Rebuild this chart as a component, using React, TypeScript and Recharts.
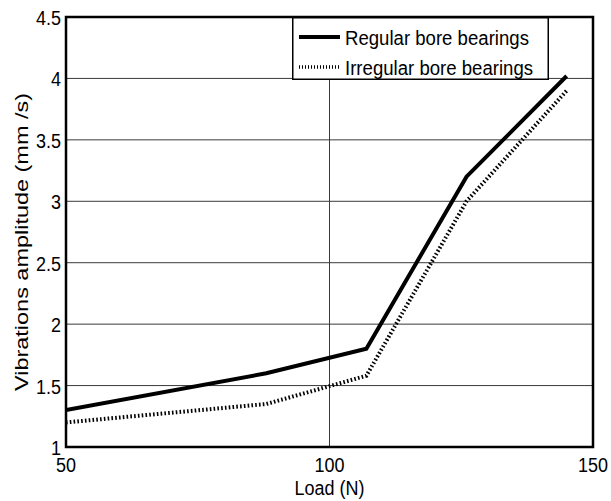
import { LineChart, Line, XAxis, YAxis, CartesianGrid, ReferenceArea, Legend } from "recharts";

const loads = [50, 88, 107, 126, 145];
const regularBore = [1.3, 1.6, 1.8, 3.2, 4.02];
const irregularBore = [1.2, 1.35, 1.58, 3.0, 3.9];
const loadTicks = [50, 100, 150];
const ampTicks = [1, 1.5, 2, 2.5, 3, 3.5, 4, 4.5];

const series = [
  { key: "regular", name: "Regular bore bearings", dash: undefined as string | undefined },
  { key: "irregular", name: "Irregular bore bearings", dash: "1.6 2.2" },
];

const data = loads.map((load, i) => ({
  load,
  regular: regularBore[i],
  irregular: irregularBore[i],
}));

const FONT = "'Liberation Sans', Arial, Helvetica, sans-serif";
// the exported figure text is a bit taller than it is wide
const STRETCH = 1.12;

function XTick({ x, y, payload }: any) {
  return (
    <text
      transform={`translate(${x},${y + 25}) scale(1,${STRETCH})`}
      textAnchor="middle"
      fontSize={18}
      fontFamily={FONT}
      fill="#000"
    >
      {payload.value}
    </text>
  );
}

function YTick({ x, y, payload }: any) {
  return (
    <text
      transform={`translate(${x - 5},${y + 8}) scale(1,${STRETCH})`}
      textAnchor="end"
      fontSize={18}
      fontFamily={FONT}
      fill="#000"
    >
      {payload.value}
    </text>
  );
}

function XLabel({ viewBox }: any) {
  const cx = viewBox.x + viewBox.width / 2;
  return (
    <text
      transform={`translate(${cx},${viewBox.y + 48}) scale(1,${STRETCH})`}
      textAnchor="middle"
      fontSize={18}
      fontFamily={FONT}
      fill="#000"
    >
      Load (N)
    </text>
  );
}

function YLabel({ viewBox }: any) {
  const cy = viewBox.y + viewBox.height / 2 + 10;
  return (
    <text
      transform={`translate(28,${cy}) rotate(-90)`}
      textAnchor="middle"
      fontSize={18}
      fontFamily={FONT}
      fill="#000"
      textLength={298}
      lengthAdjust="spacingAndGlyphs"
    >
      Vibrations amplitude (mm /s)
    </text>
  );
}

function LegendBox() {
  return (
    <svg width={257} height={63} style={{ display: "block" }}>
      <rect x={0.75} y={0.75} width={255.5} height={61.5} fill="#fff" stroke="#000" strokeWidth={1.5} />
      {series.map((s, i) => {
        const cy = 20 + i * 30;
        return (
          <g key={s.key}>
            <line
              x1={7}
              x2={48}
              y1={cy}
              y2={cy}
              stroke="#000"
              strokeWidth={s.dash ? 3.5 : 4}
              strokeDasharray={s.dash ? "1 2" : undefined}
            />
            <text
              transform={`translate(53,${cy + 8}) scale(1,${STRETCH})`}
              fontSize={18.6}
              fontFamily={FONT}
              fill="#000"
            >
              {s.name}
            </text>
          </g>
        );
      })}
    </svg>
  );
}

export default function App() {
  return (
    <div style={{ position: "absolute", left: 0, top: 0, background: "#fff" }}>
      <LineChart width={611} height={501} data={data} margin={{ top: 17, right: 18, bottom: 0, left: 0 }}>
        <CartesianGrid stroke="#3a3a3a" strokeWidth={1} />
        <XAxis
          dataKey="load"
          type="number"
          domain={[50, 150]}
          ticks={loadTicks}
          allowDataOverflow
          height={54}
          tickLine={false}
          tickSize={0}
          tickMargin={0}
          axisLine={false}
          tick={<XTick />}
          label={<XLabel />}
        />
        <YAxis
          type="number"
          domain={[1, 4.5]}
          ticks={ampTicks}
          allowDataOverflow
          width={66}
          tickLine={false}
          tickSize={0}
          tickMargin={0}
          axisLine={false}
          tick={<YTick />}
          label={<YLabel />}
        />
        <ReferenceArea x1={50} x2={150} y1={1} y2={4.5} fill="none" stroke="#000" strokeWidth={2.5} />
        {series.map((s) => (
          <Line
            key={s.key}
            dataKey={s.key}
            name={s.name}
            type="linear"
            stroke="#000"
            strokeWidth={4}
            strokeDasharray={s.dash}
            dot={false}
            isAnimationActive={false}
          />
        ))}
        <Legend
          layout="vertical"
          align="center"
          verticalAlign="middle"
          wrapperStyle={{ left: 292, top: 17, width: 257, height: 63 }}
          content={() => <LegendBox />}
        />
      </LineChart>
    </div>
  );
}
